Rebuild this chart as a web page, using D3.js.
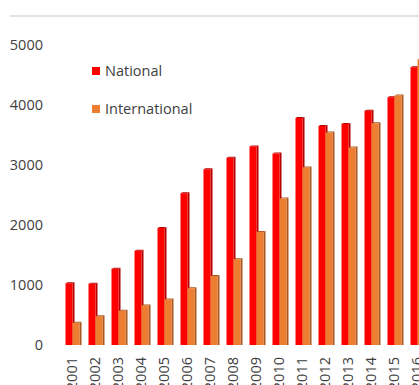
<!DOCTYPE html>
<html>
<head>
<meta charset="utf-8">
<script src="https://cdn.jsdelivr.net/npm/d3@7"></script>
<style>
  html, body { margin: 0; padding: 0; background: #fff; }
  svg { display: block; }
  text { font-family: "Open Sans", sans-serif; fill: #404040; }
</style>
</head>
<body>
<script>
const years = ["2001","2002","2003","2004","2005","2006","2007","2008","2009","2010","2011","2012","2013","2014","2015","2016"];
const national = [1030,1020,1270,1570,1950,2530,2930,3120,3310,3190,3785,3650,3685,3905,4130,4630];
const international = [370,480,570,660,760,945,1150,1430,1885,2440,2960,3540,3290,3695,4160,4760];
const seriesNames = ["National","International"];
const yTicks = [0,1000,2000,3000,4000,5000];

const W = 419, H = 385;
const svg = d3.select("body").append("svg").attr("width", W).attr("height", H);

const colors = { National: "#ff0000", International: "#ed7d31" };
const sideColors = { National: "#b40000", International: "#a9561f" };

// top line
svg.append("line").attr("x1", 10).attr("x2", W).attr("y1", 16).attr("y2", 16)
  .attr("stroke", "#d9d9d9").attr("stroke-width", 1.5);

const y = d3.scaleLinear().domain([0, 5000]).range([345, 45]);
const x0 = d3.scaleBand().domain(years).range([61, 61 + 23 * years.length]).padding(0);
const x1 = d3.scaleBand().domain(seriesNames).range([0, x0.bandwidth()]).paddingInner(0).paddingOuter(0.643);

// y axis
const yAxis = d3.axisLeft(y).tickValues(yTicks).tickSize(0).tickPadding(0).tickFormat(d3.format("d"));
const gy = svg.append("g").attr("transform", "translate(43,0)").call(yAxis);
gy.select(".domain").remove();
gy.selectAll("text").style("font-size", "14.5px").style("font-family", "'Open Sans', sans-serif").attr("fill", "#404040");

// bars
const data = years.map((yr, i) => ({ year: yr, values: [
  { key: "National", value: national[i] },
  { key: "International", value: international[i] }
]}));

const d = 2;
const groups = svg.append("g").selectAll("g").data(data).join("g")
  .attr("transform", g => `translate(${x0(g.year)},0)`);

const bars = groups.selectAll("g").data(g => g.values).join("g");
bars.append("polygon")
  .attr("points", v => {
    const xl = x1(v.key) + x1.bandwidth(), yt = y(v.value);
    return `${xl},${yt} ${xl + d},${yt - d + 1} ${xl + d},${y(0)} ${xl},${y(0)}`;
  })
  .attr("fill", v => sideColors[v.key]);
bars.append("polygon")
  .attr("points", v => {
    const xl = x1(v.key), w = x1.bandwidth(), yt = y(v.value);
    return `${xl},${yt} ${xl + d},${yt - d + 1} ${xl + w + d},${yt - d + 1} ${xl + w},${yt}`;
  })
  .attr("fill", v => sideColors[v.key]);
bars.append("rect")
  .attr("x", v => x1(v.key))
  .attr("y", v => y(v.value))
  .attr("width", x1.bandwidth())
  .attr("height", v => y(0) - y(v.value))
  .attr("fill", v => colors[v.key]);

// x labels
const xAxis = d3.axisBottom(x0).tickSize(0).tickPadding(0);
const gx = svg.append("g").attr("transform", "translate(-1,357)").call(xAxis);
gx.select(".domain").remove();
gx.selectAll("text")
  .style("font-size", "14.5px").style("font-family", "'Open Sans', sans-serif").attr("fill", "#404040")
  .attr("text-anchor", "end").attr("transform", "rotate(-90)").attr("x", 0).attr("y", 0).attr("dy", "0.35em");

// legend
const legend = svg.append("g").selectAll("g").data(seriesNames).join("g")
  .attr("transform", (s, i) => `translate(92,${67 + i * 38})`);
legend.append("rect").attr("width", 8).attr("height", 8).attr("fill", s => colors[s]);
legend.append("text").attr("x", 13).attr("y", 9).style("font-size", "14.5px").text(s => s);
</script>
</body>
</html>
